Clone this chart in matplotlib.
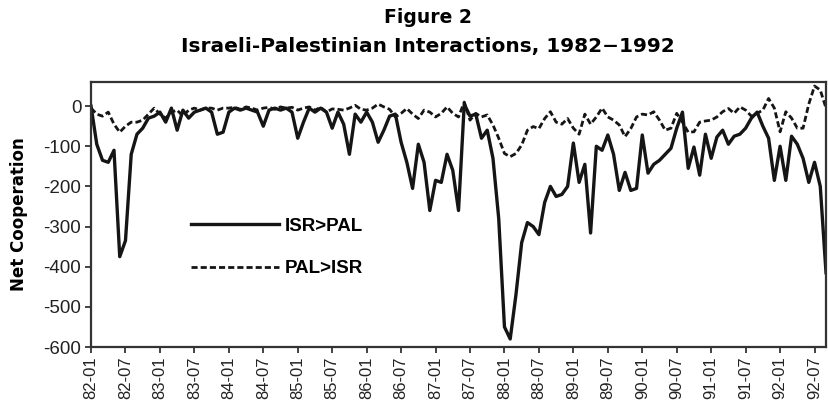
import numpy as np
import matplotlib
matplotlib.use("Agg")
import matplotlib.pyplot as plt

# Monthly net cooperation, 1982-01 .. 1992-09
isr_pal = [
    0, -95, -135, -140, -110, -375, -335, -120, -70, -55, -30, -25,        # 1982
    -15, -40, -5, -60, -10, -30, -15, -10, -5, -15, -70, -65,              # 1983
    -15, -5, -10, -5, -10, -15, -50, -10, -5, -10, -5, -15,                # 1984
    -80, -40, -5, -15, -5, -15, -55, -15, -45, -120, -20, -40,             # 1985
    -15, -40, -90, -60, -25, -20, -90, -140, -205, -95, -140, -260,        # 1986
    -185, -190, -120, -160, -260, 5, -25, -20, -80, -60, -130, -280,       # 1987
    -550, -580, -470, -340, -290, -300, -320, -240, -200, -225, -220, -200,  # 1988
    -92, -190, -145, -316, -100, -110, -72, -120, -210, -165, -210, -205,  # 1989
    -72, -167, -145, -135, -120, -105, -55, -15, -155, -102, -172, -70,    # 1990
    -130, -77, -60, -95, -75, -70, -55, -30, -15, -50, -80, -185,          # 1991
    -100, -185, -75, -95, -130, -190, -140, -200, -415,                    # 1992
]
pal_isr = [
    -5, -20, -25, -15, -45, -65, -50, -40, -40, -35, -20, -5,
    -20, -30, -15, -10, -25, -10, -5, -10, -5, -5, -10, -5,
    -5, -3, -8, -2, -5, -10, -5, -3, -8, -2, -5, -3,
    -10, -5, -2, -10, -3, -15, -7, -8, -10, -5, 2, -8,
    -10, -5, 5, -2, -8, -27, -18, -6, -20, -31, -10, -15,
    -27, -18, -2, -18, -27, 10, -35, -18, -27, -22, -47, -80,
    -118, -126, -118, -97, -60, -51, -56, -31, -14, -40, -45, -31,
    -55, -70, -20, -45, -27, -5, -27, -35, -47, -76, -56, -27,
    -20, -22, -14, -35, -60, -55, -18, -40, -65, -64, -40, -37,
    -35, -27, -14, -6, -18, -2, -10, -25, -18, -10, 19, -5,
    -64, -14, -30, -55, -55, 5, 50, 40, -5,
]
tick_labels = [f"{y:02d}-{m:02d}" for y in range(82, 93) for m in (1, 7)]
y_ticks = [0, -100, -200, -300, -400, -500, -600]

plt.rcParams.update({
    "font.family": ["Liberation Sans", "DejaVu Sans"],
    "font.size": 12,
    "axes.unicode_minus": False,
})

fig = plt.figure(figsize=(8.29, 4.05), dpi=100)
ax = fig.add_axes([0.1098, 0.1432, 0.8866, 0.6543])

months = np.arange(len(isr_pal))
ax.plot(months, isr_pal, color="#151515", lw=2.4, label="ISR>PAL")
ax.plot(months, pal_isr, color="#151515", lw=2.0, dashes=(2.2, 1.1), label="PAL>ISR")

ax.set_xlim(0, len(isr_pal) - 1)
ax.set_ylim(-600, 60)
ax.set_yticks(y_ticks)
ax.set_yticklabels([str(v) for v in y_ticks], fontsize=13.5)
ax.set_xticks(np.arange(len(tick_labels)) * 6)
ax.set_xticklabels(tick_labels, rotation=90, fontsize=12)
ax.tick_params(axis="both", direction="out", length=4, width=1.2, colors="#222222", pad=3)

for s in ax.spines.values():
    s.set_linewidth(1.6)
    s.set_color("#333333")

ax.set_ylabel("Net Cooperation", fontweight="bold", fontsize=12, family="DejaVu Sans", labelpad=11)

leg = ax.legend(loc="center left", bbox_to_anchor=(0.113, 0.375), frameon=False,
                handlelength=4.7, labelspacing=1.35, handletextpad=0.3,
                prop={"size": 13.5, "weight": "bold"})

fig.text(0.516, 0.958, "Figure 2", ha="center", va="center", fontsize=13.5,
         fontweight="bold", family="DejaVu Sans")
fig.text(0.516, 0.884, "Israeli-Palestinian Interactions, 1982\u22121992", ha="center", va="center",
         fontsize=14.5, fontweight="bold", family="DejaVu Sans")

fig.savefig("out.png", dpi=100)
